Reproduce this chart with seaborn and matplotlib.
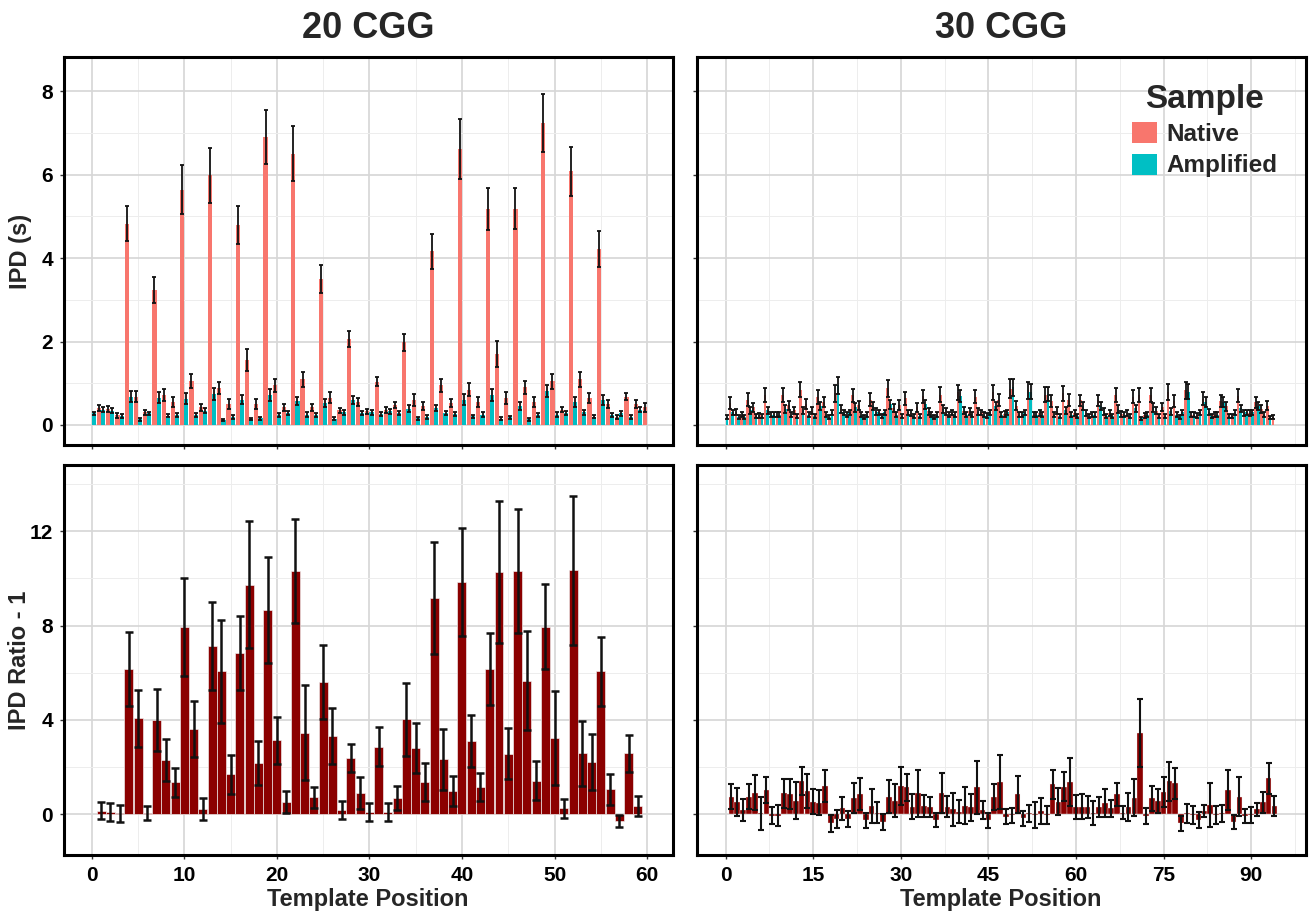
import numpy as np
import pandas as pd
import matplotlib
matplotlib.use("Agg")
import matplotlib.pyplot as plt
from matplotlib.ticker import MultipleLocator
import seaborn as sns

# ─────────────────────────────────────────
# DATA
# ─────────────────────────────────────────
nan = np.nan

# 20 CGG: native at positions 1..60, amplified at 0..59
pos_20 = np.arange(0, 61)
native_20 = [nan, 0.40, 0.38, 0.23, 4.82, 0.68, 0.30, 3.24, 0.72, 0.55,
             5.64, 1.05, 0.42, 5.98, 0.88, 0.50, 4.80, 1.56, 0.50, 6.90,
             0.95, 0.42, 6.50, 1.10, 0.42, 3.50, 0.65, 0.35, 2.06, 0.55,
             0.33, 1.04, 0.36, 0.48, 1.98, 0.60, 0.45, 4.16, 0.95, 0.52,
             6.62, 0.85, 0.55, 5.18, 1.70, 0.65, 5.18, 0.90, 0.55, 7.24,
             1.05, 0.36, 6.08, 1.10, 0.65, 4.22, 0.50, 0.20, 0.68, 0.50,
             0.42]
native_err_20 = [nan, 0.07, 0.07, 0.06, 0.42, 0.14, 0.06, 0.31, 0.14, 0.12,
                 0.58, 0.16, 0.08, 0.65, 0.14, 0.12, 0.46, 0.27, 0.12, 0.65,
                 0.16, 0.08, 0.66, 0.18, 0.08, 0.34, 0.13, 0.06, 0.19, 0.10,
                 0.06, 0.10, 0.07, 0.08, 0.21, 0.14, 0.09, 0.41, 0.16, 0.10,
                 0.72, 0.16, 0.12, 0.50, 0.31, 0.14, 0.49, 0.16, 0.12, 0.70,
                 0.18, 0.06, 0.59, 0.18, 0.12, 0.43, 0.10, 0.05, 0.08, 0.10,
                 0.10]
amp_20 = [0.28, 0.36, 0.34, 0.22, 0.68, 0.135, 0.28, 0.65, 0.22, 0.24,
          0.63, 0.23, 0.34, 0.74, 0.125, 0.19, 0.61, 0.145, 0.16, 0.72,
          0.23, 0.28, 0.575, 0.25, 0.245, 0.53, 0.15, 0.30, 0.60, 0.29,
          0.30, 0.27, 0.325, 0.28, 0.39, 0.16, 0.19, 0.41, 0.285, 0.26,
          0.61, 0.21, 0.25, 0.72, 0.15, 0.18, 0.46, 0.135, 0.23, 0.81,
          0.25, 0.29, 0.54, 0.31, 0.20, 0.60, 0.24, 0.28, 0.19, 0.37,
          nan]
amp_err_20 = [0.04, 0.06, 0.06, 0.05, 0.13, 0.03, 0.04, 0.13, 0.04, 0.05,
              0.13, 0.05, 0.06, 0.14, 0.03, 0.05, 0.10, 0.03, 0.04, 0.14,
              0.05, 0.05, 0.10, 0.05, 0.05, 0.10, 0.04, 0.05, 0.10, 0.05,
              0.05, 0.05, 0.05, 0.05, 0.08, 0.04, 0.04, 0.08, 0.05, 0.05,
              0.14, 0.04, 0.05, 0.14, 0.04, 0.04, 0.10, 0.03, 0.05, 0.14,
              0.05, 0.05, 0.12, 0.06, 0.04, 0.12, 0.05, 0.06, 0.04, 0.07,
              nan]

ratio_pos_20 = np.arange(1, 60)
ratio_20 = [0.16, 0.11, 0.04, 6.16, 4.07, 0.07, 4.00, 2.30, 1.36, 7.95,
            3.62, 0.23, 7.13, 6.06, 1.69, 6.85, 9.73, 2.17, 8.66, 3.14,
            0.51, 10.31, 3.46, 0.72, 5.60, 3.32, 0.18, 2.40, 0.89, 0.11,
            2.87, 0.11, 0.70, 4.03, 2.80, 1.38, 9.18, 2.33, 1.00, 9.86,
            3.12, 1.17, 6.16, 10.28, 2.56, 10.31, 5.66, 1.43, 7.95, 3.23,
            0.25, 10.34, 2.58, 2.23, 6.07, 1.06, -0.28, 2.58, 0.35]
ratio_err_20 = [0.36, 0.39, 0.37, 1.55, 1.21, 0.30, 1.30, 0.90, 0.62, 2.07,
                1.19, 0.48, 1.87, 2.18, 0.84, 1.56, 2.70, 0.92, 2.24, 0.99,
                0.46, 2.19, 2.01, 0.45, 1.56, 1.17, 0.39, 0.60, 0.68, 0.37,
                0.82, 0.37, 0.50, 1.55, 1.06, 0.80, 2.37, 1.29, 0.64, 2.29,
                1.11, 0.59, 1.52, 3.00, 1.08, 2.63, 2.10, 0.82, 1.80, 2.00,
                0.40, 3.15, 1.36, 1.19, 1.46, 0.66, 0.26, 0.77, 0.42]

# 30 CGG: native at positions 1..94, amplified at 0..93
pos_30 = np.arange(0, 95)
native_30 = [nan,
             0.52, 0.31, 0.24, 0.61, 0.42, 0.23, 0.71, 0.24, 0.24, 0.72,
             0.47, 0.35, 0.84, 0.50, 0.34, 0.67, 0.55, 0.19, 0.76, 0.38,
             0.24, 0.71, 0.47, 0.19, 0.61, 0.32, 0.21, 0.88, 0.40, 0.48,
             0.64, 0.29, 0.42, 0.69, 0.33, 0.19, 0.73, 0.33, 0.30, 0.78,
             0.34, 0.33, 0.68, 0.30, 0.23, 0.79, 0.60, 0.27, 0.87, 0.46,
             0.25, 0.83, 0.24, 0.29, 0.73, 0.57, 0.34, 0.76, 0.60, 0.29,
             0.59, 0.29, 0.26, 0.59, 0.33, 0.28, 0.71, 0.27, 0.29, 0.68,
             0.71, 0.23, 0.71, 0.34, 0.43, 0.80, 0.58, 0.19, 0.83, 0.24,
             0.23, 0.63, 0.31, 0.24, 0.57, 0.45, 0.21, 0.70, 0.28, 0.29,
             0.54, 0.38, 0.46, 0.20]
native_err_30 = [nan,
                 0.14, 0.08, 0.06, 0.15, 0.10, 0.06, 0.17, 0.06, 0.06, 0.17,
                 0.11, 0.09, 0.18, 0.12, 0.08, 0.16, 0.13, 0.05, 0.20, 0.09,
                 0.06, 0.16, 0.11, 0.05, 0.15, 0.08, 0.05, 0.20, 0.10, 0.12,
                 0.15, 0.07, 0.10, 0.16, 0.08, 0.05, 0.17, 0.08, 0.07, 0.18,
                 0.08, 0.08, 0.16, 0.07, 0.06, 0.18, 0.14, 0.07, 0.22, 0.11,
                 0.06, 0.20, 0.06, 0.07, 0.18, 0.14, 0.08, 0.18, 0.14, 0.07,
                 0.14, 0.07, 0.06, 0.14, 0.08, 0.07, 0.17, 0.07, 0.07, 0.16,
                 0.17, 0.06, 0.17, 0.08, 0.10, 0.19, 0.14, 0.05, 0.20, 0.06,
                 0.06, 0.15, 0.08, 0.06, 0.14, 0.11, 0.05, 0.16, 0.07, 0.07,
                 0.13, 0.09, 0.11, 0.05]
amp_30 = [0.20, 0.30, 0.20, 0.20, 0.35, 0.22, 0.22, 0.35, 0.25, 0.25,
          0.38, 0.25, 0.22, 0.35, 0.25, 0.22, 0.45, 0.25, 0.30, 0.95,
          0.30, 0.30, 0.42, 0.25, 0.25, 0.45, 0.30, 0.30, 0.50, 0.25,
          0.22, 0.30, 0.22, 0.22, 0.50, 0.25, 0.25, 0.38, 0.25, 0.25,
          0.70, 0.25, 0.25, 0.32, 0.25, 0.30, 0.45, 0.25, 0.30, 0.90,
          0.25, 0.30, 0.80, 0.25, 0.25, 0.75, 0.25, 0.22, 0.35, 0.25,
          0.22, 0.45, 0.22, 0.25, 0.45, 0.22, 0.22, 0.38, 0.25, 0.22,
          0.40, 0.16, 0.25, 0.42, 0.22, 0.22, 0.33, 0.25, 0.30, 0.80,
          0.25, 0.30, 0.55, 0.22, 0.25, 0.55, 0.22, 0.30, 0.40, 0.30,
          0.30, 0.45, 0.25, 0.18, nan]
amp_err_30 = [0.05, 0.07, 0.05, 0.05, 0.08, 0.05, 0.05, 0.08, 0.06, 0.06,
              0.09, 0.06, 0.05, 0.08, 0.06, 0.05, 0.10, 0.06, 0.07, 0.20,
              0.07, 0.07, 0.10, 0.06, 0.06, 0.10, 0.07, 0.07, 0.11, 0.06,
              0.05, 0.07, 0.05, 0.05, 0.11, 0.06, 0.06, 0.09, 0.06, 0.06,
              0.15, 0.06, 0.06, 0.08, 0.06, 0.07, 0.10, 0.06, 0.07, 0.20,
              0.06, 0.07, 0.18, 0.06, 0.06, 0.17, 0.06, 0.05, 0.08, 0.06,
              0.05, 0.10, 0.05, 0.06, 0.10, 0.05, 0.05, 0.09, 0.06, 0.05,
              0.09, 0.04, 0.06, 0.10, 0.05, 0.05, 0.08, 0.06, 0.07, 0.18,
              0.06, 0.07, 0.12, 0.05, 0.06, 0.12, 0.05, 0.07, 0.09, 0.07,
              0.07, 0.10, 0.06, 0.04, nan]

ratio_pos_30 = np.arange(1, 95)
ratio_30 = [0.75, 0.54, 0.18, 0.75, 0.92, 0.05, 1.03, -0.05, -0.05, 0.89,
            0.86, 0.58, 1.41, 0.99, 0.54, 0.49, 1.20, -0.38, -0.20, 0.25,
            -0.20, 0.68, 0.86, -0.24, 0.35, 0.07, -0.31, 0.75, 0.58, 1.20,
            1.14, 0.32, 0.89, 0.37, 0.30, -0.24, 0.92, 0.32, 0.21, 0.11,
            0.37, 0.30, 1.14, 0.18, -0.24, 0.75, 1.38, -0.10, -0.03, 0.85,
            -0.17, 0.04, -0.03, 0.14, -0.03, 1.27, 0.54, 1.17, 1.38, 0.32,
            0.32, 0.32, 0.04, 0.32, 0.49, 0.25, 0.86, 0.07, 0.32, 0.71,
            3.46, -0.07, 0.68, 0.56, 0.96, 1.41, 1.31, -0.38, 0.04, -0.03,
            -0.24, 0.14, 0.40, -0.03, 0.04, 1.03, -0.31, 0.75, -0.07, -0.03,
            0.21, 0.51, 1.53, 0.35]
ratio_err_30 = [0.54, 0.59, 0.46, 0.52, 0.74, 0.69, 0.56, 0.37, 0.44, 0.61,
                0.65, 0.78, 0.60, 0.73, 0.53, 0.53, 0.68, 0.35, 0.39, 0.49,
                0.33, 0.64, 0.67, 0.32, 0.71, 0.45, 0.33, 0.71, 0.69, 0.82,
                0.58, 0.53, 0.99, 0.47, 0.42, 0.31, 0.85, 0.45, 0.71, 0.48,
                0.78, 0.57, 1.11, 0.39, 0.32, 0.55, 1.15, 0.32, 0.32, 0.79,
                0.33, 0.37, 0.54, 0.56, 0.37, 0.61, 0.56, 0.62, 1.03, 0.52,
                0.53, 0.46, 0.51, 0.42, 0.60, 0.35, 0.49, 0.27, 0.59, 0.78,
                1.44, 0.35, 0.54, 0.51, 0.64, 0.83, 0.66, 0.32, 0.42, 0.39,
                0.35, 0.27, 0.93, 0.37, 0.37, 0.85, 0.30, 0.83, 0.30, 0.34,
                0.28, 0.44, 0.66, 0.42]

# ─────────────────────────────────────────
# STYLE
# ─────────────────────────────────────────
NATIVE_COL = '#F8766D'
AMP_COL    = '#00BFC4'
RATIO_COL  = '#8B0000'
DODGE      = 0.225

sns.set_theme(style="white")
plt.rcParams['font.family'] = ['Liberation Sans', 'DejaVu Sans']
plt.rcParams['font.weight'] = 'bold'


def draw_ipd(ax, pos, native, amp, native_err, amp_err, legend, cap):
    n = len(pos)
    df = pd.DataFrame({
        'pos':    np.concatenate([pos, pos]),
        'ipd':    np.concatenate([native, amp]),
        'sample': ['Native'] * n + ['Amplified'] * n,
    }).dropna()
    sns.barplot(data=df, x='pos', y='ipd', hue='sample',
                hue_order=['Native', 'Amplified'],
                palette=[NATIVE_COL, AMP_COL], native_scale=True,
                width=0.9, dodge=True, errorbar=None, saturation=1,
                linewidth=0, legend=legend, ax=ax)
    for offset, vals, errs in [(-DODGE, native, native_err), (DODGE, amp, amp_err)]:
        vals = np.asarray(vals, dtype=float)
        errs = np.asarray(errs, dtype=float)
        ok = np.isfinite(vals)
        ax.errorbar(pos[ok] + offset, vals[ok], yerr=errs[ok], fmt='none',
                    ecolor='#111111', elinewidth=1.3, capsize=cap,
                    capthick=1.3, zorder=5)


def draw_ratio(ax, pos, ratio, err, edge_lw, line_w, cap):
    df = pd.DataFrame({'pos': pos, 'ratio': ratio})
    sns.barplot(data=df, x='pos', y='ratio', native_scale=True, width=0.97,
                color=RATIO_COL, saturation=1, edgecolor='#F2F2F2',
                linewidth=edge_lw, errorbar=None, ax=ax)
    ax.errorbar(pos, ratio, yerr=err, fmt='none', ecolor='#111111',
                elinewidth=line_w, capsize=cap, capthick=line_w, zorder=5)


def style_axis(ax, xlim, ylim, xmaj, ymaj, show_x, show_y):
    ax.set_xlim(*xlim)
    ax.set_ylim(*ylim)
    ax.xaxis.set_major_locator(MultipleLocator(xmaj))
    ax.xaxis.set_minor_locator(MultipleLocator(xmaj / 2))
    ax.yaxis.set_major_locator(MultipleLocator(ymaj))
    ax.yaxis.set_minor_locator(MultipleLocator(ymaj / 2))
    ax.grid(which='major', color='#D6D6D6', linewidth=1.2)
    ax.grid(which='minor', color='#EDEDED', linewidth=0.7)
    ax.set_axisbelow(True)
    for s in ax.spines.values():
        s.set_color('black')
        s.set_linewidth(2.2)
    ax.tick_params(which='major', length=3, width=1, color='#333333',
                   labelsize=15, labelcolor='black', pad=5,
                   bottom=True, left=True)
    ax.tick_params(which='minor', length=0)
    if not show_x:
        ax.set_xticklabels([])
    if not show_y:
        ax.set_yticklabels([])
    ax.set_xlabel('')
    ax.set_ylabel('')


# ─────────────────────────────────────────
# FIGURE
# ─────────────────────────────────────────
fig = plt.figure(figsize=(13.09, 9.13), dpi=100)
W, H = 1309, 913


def px_axes(x0, y0, x1, y1):
    return fig.add_axes([x0 / W, 1 - y1 / H, (x1 - x0) / W, (y1 - y0) / H])


ax_tl = px_axes(64, 57, 673, 445)
ax_tr = px_axes(697, 57, 1306, 445)
ax_bl = px_axes(64, 465, 673, 855)
ax_br = px_axes(697, 465, 1306, 855)

draw_ipd(ax_tl, pos_20, native_20, amp_20, native_err_20, amp_err_20, False, 1.6)
draw_ipd(ax_tr, pos_30, native_30, amp_30, native_err_30, amp_err_30, True, 1.1)
draw_ratio(ax_bl, ratio_pos_20, ratio_20, ratio_err_20, 0.45, 1.8, 3.0)
draw_ratio(ax_br, ratio_pos_30, ratio_30, ratio_err_30, 0.25, 1.5, 1.9)

top_ylim = (-0.48, 8.82)
bot_ylim = (-1.72, 14.8)
style_axis(ax_tl, (-3.0, 62.8), top_ylim, 10, 2, False, True)
style_axis(ax_tr, (-4.9, 99.4), top_ylim, 15, 2, False, False)
style_axis(ax_bl, (-3.0, 62.8), bot_ylim, 10, 4, True, True)
style_axis(ax_br, (-4.9, 99.4), bot_ylim, 15, 4, True, False)

sns.move_legend(ax_tr, loc='upper left', bbox_to_anchor=(0.715, 0.93),
                title='Sample', frameon=False, fontsize=17.5,
                title_fontproperties={'size': 24, 'weight': 'bold'},
                handlelength=1.0, handleheight=0.95, handletextpad=0.4,
                labelspacing=0.3, borderaxespad=0, borderpad=0)

# panel titles and axis labels
fig.text(368 / W, 1 - 28 / H, '20 CGG', ha='center', va='center',
         fontsize=26, fontweight='bold')
fig.text(1001 / W, 1 - 28 / H, '30 CGG', ha='center', va='center',
         fontsize=26, fontweight='bold')
fig.text(20 / W, 1 - 251 / H, 'IPD (s)', ha='center', va='center',
         rotation=90, fontsize=17, fontweight='bold')
fig.text(20 / W, 1 - 660 / H, 'IPD Ratio - 1', ha='center', va='center',
         rotation=90, fontsize=17, fontweight='bold')
fig.text(368 / W, 1 - 899 / H, 'Template Position', ha='center',
         va='center', fontsize=17, fontweight='bold')
fig.text(1001 / W, 1 - 899 / H, 'Template Position', ha='center',
         va='center', fontsize=17, fontweight='bold')

fig.savefig('out.png', dpi=100)
print("Saved: out.png")
